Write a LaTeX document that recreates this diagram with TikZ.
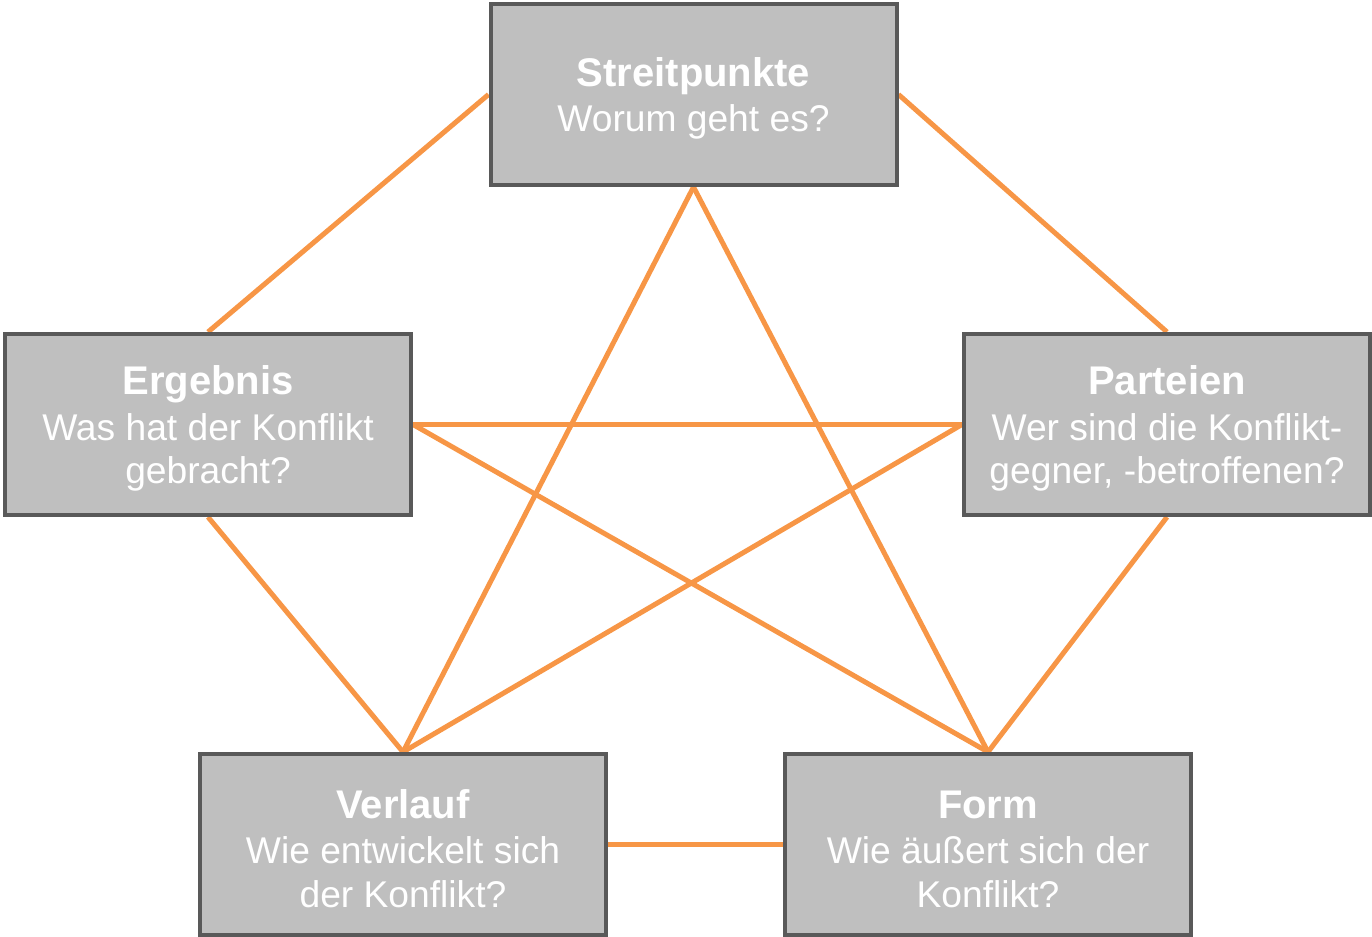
\documentclass[tikz,border=0pt]{standalone}
\usepackage{fontspec}
\setmainfont{Liberation Sans}
\usetikzlibrary{backgrounds}
\definecolor{boxfill}{HTML}{BFBFBF}
\definecolor{boxline}{HTML}{595959}
\definecolor{conn}{HTML}{F79646}
\newcommand{\ttl}[1]{\rule{0pt}{18.5pt}{\fontsize{20pt}{23.5pt}\selectfont\bfseries #1}}
\begin{document}
\begin{tikzpicture}[x=0.5pt,y=-0.5pt,
  topic/.style={draw=boxline,line width=2pt,fill=boxfill,text=white,
    minimum width=203pt,minimum height=90.5pt,align=center,inner sep=0pt,
    font=\fontsize{18.6pt}{21.8pt}\selectfont},
  link/.style={draw=conn,line width=2.5pt}]
\useasboundingbox (0,0) rectangle (1372,937);
\node[topic] (s) at (693.5,94.5) {\ttl{Streitpunkte}\\[1pt]Worum geht es?};
\node[topic] (e) at (208,424.5) {\ttl{Ergebnis}\\[1pt]Was hat der Konflikt\\gebracht?};
\node[topic] (p) at (1167,424.5) {\ttl{Parteien}\\[1pt]Wer sind die Konflikt-\\gegner, -betroffenen?};
\node[topic] (v) at (403,844.5) {\ttl{Verlauf}\\[1pt]Wie entwickelt sich\\der Konflikt?};
\node[topic] (f) at (988,844.5) {\ttl{Form}\\[1pt]Wie äußert sich der\\Konflikt?};
\begin{pgfonlayer}{background}
\draw[link] (s.west) -- (e.north);
\draw[link] (s.east) -- (p.north);
\draw[link] (s.south) -- (v.north);
\draw[link] (s.south) -- (f.north);
\draw[link] (e.east) -- (p.west);
\draw[link] (e.east) -- (f.north);
\draw[link] (p.west) -- (v.north);
\draw[link] (e.south) -- (v.north);
\draw[link] (p.south) -- (f.north);
\draw[link] (v.east) -- (f.west);
\end{pgfonlayer}
\end{tikzpicture}
\end{document}
